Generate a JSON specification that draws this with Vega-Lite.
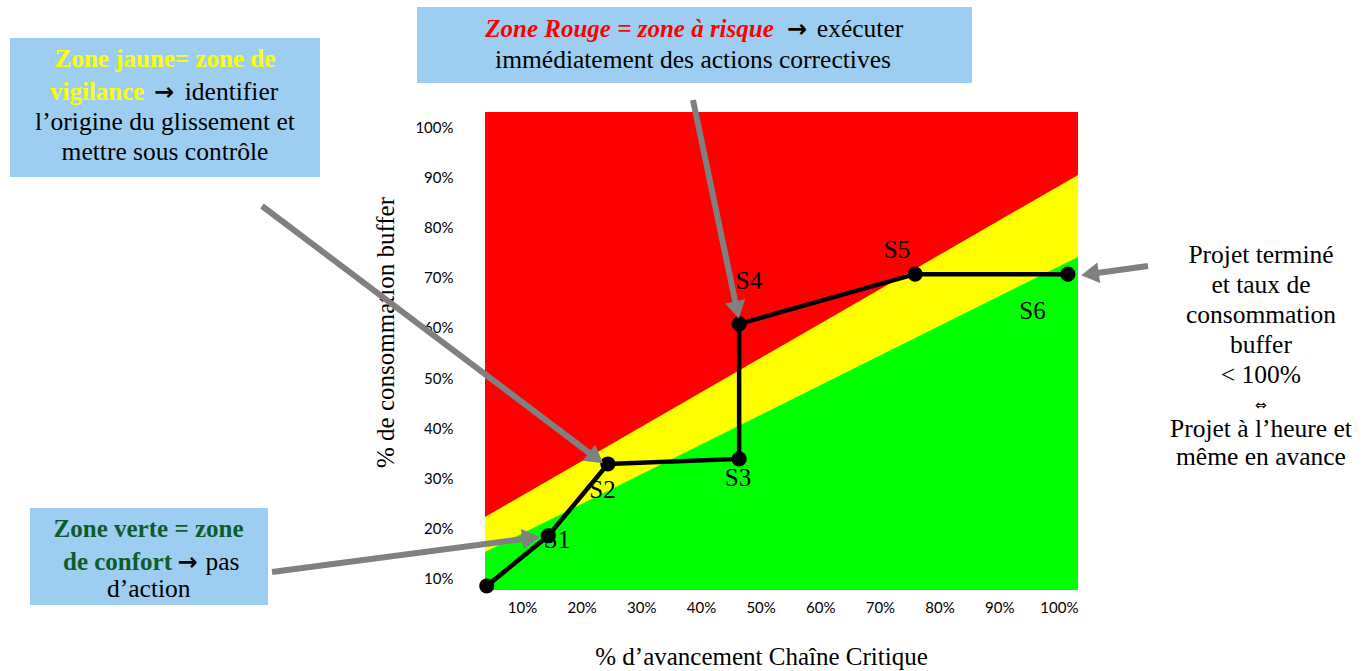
{
  "$schema": "https://vega.github.io/schema/vega-lite/v6.json",
  "width": 593,
  "height": 478,
  "autosize": "none",
  "padding": {"left": 485, "top": 112, "right": 294, "bottom": 81},
  "background": "white",
  "config": {"view": {"stroke": null, "fill": "#FF0000"}},
  "datasets": {
    "zones": [
      {"x": 3.8, "y": 22.34, "z": "y"}, {"x": 103.2, "y": 90.45, "z": "y"},
      {"x": 3.8, "y": 15.37, "z": "g"}, {"x": 103.2, "y": 74.12, "z": "g"}
    ],
    "path": [
      {"i": 0, "x": 4.1, "y": 8.6},
      {"i": 1, "x": 14.4, "y": 18.6},
      {"i": 2, "x": 24.4, "y": 32.9},
      {"i": 3, "x": 46.4, "y": 33.9},
      {"i": 4, "x": 46.4, "y": 60.8},
      {"i": 5, "x": 75.9, "y": 70.7},
      {"i": 6, "x": 101.5, "y": 70.7}
    ],
    "labels": [
      {"t": "S1", "x": 15.87, "y": 17.76},
      {"t": "S2", "x": 23.5, "y": 27.8},
      {"t": "S3", "x": 46.2, "y": 30.1},
      {"t": "S4", "x": 48.05, "y": 69.34},
      {"t": "S5", "x": 72.86, "y": 75.52},
      {"t": "S6", "x": 95.57, "y": 63.27}
    ],
    "boxes": [
      {"x": -75.82, "y": 117.74, "x2": -23.86, "y2": 90.05},
      {"x": -7.6, "y": 123.91, "x2": 85.43, "y2": 108.78},
      {"x": -72.47, "y": 24.13, "x2": -32.57, "y2": 4.81}
    ],
    "texts": [
      {"t": "Zone jaune= zone de", "x": -49.84, "y": 111.96, "s": "yb"},
      {"t": "vigilance", "x": -61.2, "y": 105.39, "s": "yb"},
      {"t": "→", "x": -50.0, "y": 105.39, "s": "arr"},
      {"t": "identifier", "x": -38.69, "y": 105.39, "s": "k"},
      {"t": "l’origine du glissement et", "x": -49.84, "y": 99.42, "s": "k"},
      {"t": "mettre sous contrôle", "x": -49.84, "y": 93.44, "s": "k"},
      {"t": "Zone Rouge = zone à risque", "x": 28.02, "y": 117.94, "s": "rbi"},
      {"t": "→", "x": 56.1, "y": 117.94, "s": "arr"},
      {"t": "exécuter", "x": 66.66, "y": 117.94, "s": "k"},
      {"t": "immédiatement des actions correctives", "x": 38.66, "y": 111.76, "s": "k"},
      {"t": "Zone verte = zone", "x": -52.6, "y": 18.36, "s": "gb"},
      {"t": "de confort", "x": -57.8, "y": 11.78, "s": "gb"},
      {"t": "→", "x": -46.07, "y": 11.78, "s": "arr"},
      {"t": "pas", "x": -40.2, "y": 11.78, "s": "k"},
      {"t": "d’action", "x": -52.55, "y": 6.41, "s": "k"},
      {"t": "Projet terminé", "x": 133.87, "y": 72.93, "s": "k"},
      {"t": "et taux de", "x": 133.87, "y": 66.95, "s": "k"},
      {"t": "consommation", "x": 133.87, "y": 60.98, "s": "k"},
      {"t": "buffer", "x": 133.87, "y": 55.0, "s": "k"},
      {"t": "< 100%", "x": 133.87, "y": 49.03, "s": "k"},
      {"t": "⇔", "x": 133.87, "y": 43.6, "s": "sym"},
      {"t": "Projet à l’heure et", "x": 133.87, "y": 38.27, "s": "k"},
      {"t": "même en avance", "x": 133.87, "y": 32.7, "s": "k"}
    ],
    "arrows": [
      {"a": 1, "i": 0, "x": -33.58, "y": 84.28}, {"a": 1, "i": 1, "x": 22.41, "y": 34.09},
      {"a": 2, "i": 0, "x": 38.66, "y": 105.39}, {"a": 2, "i": 1, "x": 46.04, "y": 63.57},
      {"a": 3, "i": 0, "x": -31.9, "y": 11.38}, {"a": 3, "i": 1, "x": 11.51, "y": 18.16},
      {"a": 4, "i": 0, "x": 114.93, "y": 72.33}, {"a": 4, "i": 1, "x": 105.21, "y": 70.74}
    ]
  },
  "encoding": {
    "x": {
      "field": "x", "type": "quantitative",
      "scale": {"domain": [3.8, 103.2], "nice": false, "zero": false},
      "axis": {
        "values": [10, 20, 30, 40, 50, 60, 70, 80, 90, 100],
        "labelExpr": "datum.value + '%'",
        "grid": false, "domain": false, "ticks": false,
        "labelPadding": 10, "labelFont": "Lato", "labelFontSize": 15, "labelColor": "#000000",
        "title": "% d’avancement Chaîne Critique",
        "titleFont": "Liberation Serif", "titleFontSize": 25, "titleFontWeight": "normal", "titleColor": "#000000",
        "titleX": 276, "titleY": 74, "titleBaseline": "alphabetic", "titleAlign": "center"
      }
    },
    "y": {
      "field": "y", "type": "quantitative",
      "scale": {"domain": [7.8, 103], "nice": false, "zero": false},
      "axis": {
        "values": [10, 20, 30, 40, 50, 60, 70, 80, 90, 100],
        "labelExpr": "datum.value + '%'",
        "grid": false, "domain": false, "ticks": false,
        "labelPadding": 32, "labelFont": "Lato", "labelFontSize": 15, "labelColor": "#000000",
        "title": "% de consommation buffer",
        "titleFont": "Liberation Serif", "titleFontSize": 25, "titleFontWeight": "normal", "titleColor": "#000000",
        "titleX": -92, "titleY": 220, "titleBaseline": "alphabetic", "titleAlign": "center", "titleAngle": 270
      }
    }
  },
  "layer": [
    {
      "data": {"name": "zones"},
      "transform": [{"filter": "datum.z === 'y'"}],
      "mark": {"type": "area", "color": "#FFFF00", "opacity": 1},
      "encoding": {"y2": {"datum": 7.8}}
    },
    {
      "data": {"name": "zones"},
      "transform": [{"filter": "datum.z === 'g'"}],
      "mark": {"type": "area", "color": "#00FF00", "opacity": 1},
      "encoding": {"y2": {"datum": 7.8}}
    },
    {
      "data": {"name": "path"},
      "mark": {"type": "line", "color": "#000000", "strokeWidth": 4.5},
      "encoding": {"order": {"field": "i"}}
    },
    {
      "data": {"name": "path"},
      "mark": {"type": "point", "filled": true, "color": "#000000", "size": 230, "opacity": 1}
    },
    {
      "data": {"name": "labels"},
      "mark": {"type": "text", "font": "Liberation Serif", "fontSize": 25, "color": "#000000", "align": "center", "baseline": "middle"},
      "encoding": {"text": {"field": "t"}}
    },
    {
      "data": {"name": "boxes"},
      "mark": {"type": "rect", "color": "#9DCEF1", "opacity": 1},
      "encoding": {"x2": {"field": "x2"}, "y2": {"field": "y2"}}
    },
    {
      "data": {"name": "texts"},
      "transform": [{"filter": "datum.s === 'k'"}],
      "mark": {"type": "text", "font": "Liberation Serif", "fontSize": 25.5, "color": "#000000", "align": "center", "baseline": "alphabetic"},
      "encoding": {"text": {"field": "t"}}
    },
    {
      "data": {"name": "texts"},
      "transform": [{"filter": "datum.s === 'yb'"}],
      "mark": {"type": "text", "font": "Liberation Serif", "fontSize": 25, "fontWeight": "bold", "color": "#FFFF00", "align": "center", "baseline": "alphabetic"},
      "encoding": {"text": {"field": "t"}}
    },
    {
      "data": {"name": "texts"},
      "transform": [{"filter": "datum.s === 'rbi'"}],
      "mark": {"type": "text", "font": "Liberation Serif", "fontSize": 25, "fontWeight": "bold", "fontStyle": "italic", "color": "#FF0000", "align": "center", "baseline": "alphabetic"},
      "encoding": {"text": {"field": "t"}}
    },
    {
      "data": {"name": "texts"},
      "transform": [{"filter": "datum.s === 'gb'"}],
      "mark": {"type": "text", "font": "Liberation Serif", "fontSize": 25, "fontWeight": "bold", "color": "#0E5C2E", "align": "center", "baseline": "alphabetic"},
      "encoding": {"text": {"field": "t"}}
    },
    {
      "data": {"name": "texts"},
      "transform": [{"filter": "datum.s === 'arr'"}],
      "mark": {"type": "text", "font": "DejaVu Sans", "fontSize": 24, "fontWeight": "bold", "color": "#000000", "align": "center", "baseline": "alphabetic"},
      "encoding": {"text": {"field": "t"}}
    },
    {
      "data": {"name": "texts"},
      "transform": [{"filter": "datum.s === 'sym'"}],
      "mark": {"type": "text", "font": "DejaVu Sans", "fontSize": 14, "color": "#000000", "align": "center", "baseline": "alphabetic"},
      "encoding": {"text": {"field": "t"}}
    },
    {
      "data": {"name": "arrows"},
      "mark": {"type": "line", "color": "#808080", "strokeWidth": 6},
      "encoding": {"detail": {"field": "a"}, "order": {"field": "i"}}
    },
    {
      "data": {"name": "arrows"},
      "transform": [{"filter": "datum.a === 1 && datum.i === 1"}],
      "mark": {"type": "point", "shape": "triangle-up", "filled": true, "color": "#808080", "size": 420, "opacity": 1, "angle": 127}
    },
    {
      "data": {"name": "arrows"},
      "transform": [{"filter": "datum.a === 2 && datum.i === 1"}],
      "mark": {"type": "point", "shape": "triangle-up", "filled": true, "color": "#808080", "size": 420, "opacity": 1, "angle": 168}
    },
    {
      "data": {"name": "arrows"},
      "transform": [{"filter": "datum.a === 3 && datum.i === 1"}],
      "mark": {"type": "point", "shape": "triangle-up", "filled": true, "color": "#808080", "size": 420, "opacity": 1, "angle": 83}
    },
    {
      "data": {"name": "arrows"},
      "transform": [{"filter": "datum.a === 4 && datum.i === 1"}],
      "mark": {"type": "point", "shape": "triangle-up", "filled": true, "color": "#808080", "size": 420, "opacity": 1, "angle": 262}
    }
  ]
}
